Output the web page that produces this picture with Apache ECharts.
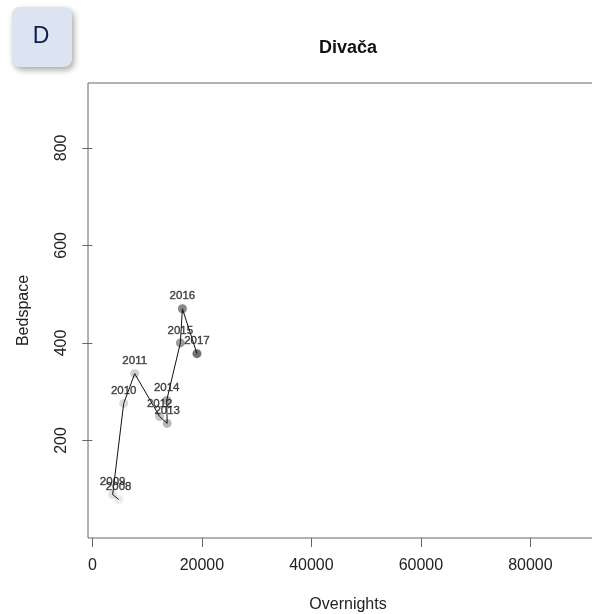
<!DOCTYPE html>
<html>
<head>
<meta charset="utf-8">
<script src="https://cdn.jsdelivr.net/npm/echarts@6/dist/echarts.min.js"></script>
<style>
  html, body { margin: 0; padding: 0; background: #fff; }
  #chart { width: 592px; height: 614px; }
</style>
</head>
<body>
<div id="chart"></div>
<script>
// Divača: overnights vs. bed capacity, by year
const years = [2008, 2009, 2010, 2011, 2012, 2013, 2014, 2015, 2016, 2017];
const overnights = [4800, 3700, 5720, 7730, 12290, 13660, 13570, 16070, 16440, 19100];
const bedspace = [79, 89, 276, 337, 249, 235, 282, 400, 470, 378];
// grey ramp, light (early years) to dark (recent years)
const yearColors = ['#e6e6e6', '#dbdbdb', '#cfcfcf', '#c3c3c3', '#b5b5b5',
                    '#a7a7a7', '#969696', '#838383', '#6c6c6c', '#4d4d4d'];
const xTicks = [0, 20000, 40000, 60000, 80000];
const yTicks = [200, 400, 600, 800];

const points = years.map((y, i) => ({
  value: [overnights[i], bedspace[i]],
  name: String(y),
  itemStyle: { color: yearColors[i] }
}));
const path = years.map((y, i) => [overnights[i], bedspace[i]]);

const font = '"Liberation Sans", Arial, Helvetica, sans-serif';
const axisGrey = '#666';
const plain = v => String(v);

const chart = echarts.init(document.getElementById('chart'), null, { renderer: 'canvas' });
chart.setOption({
  animation: false,
  backgroundColor: '#fff',
  title: {
    text: 'Divača',
    left: 343, top: 34, textAlign: 'center',
    textStyle: { fontFamily: font, fontSize: 18, fontWeight: 'bold', color: '#111' }
  },
  graphic: [
    {
      type: 'rect',
      shape: { x: 12, y: 7, width: 60, height: 60, r: 8 },
      style: {
        fill: '#dce4f1',
        shadowBlur: 6, shadowOffsetX: 2, shadowOffsetY: 3,
        shadowColor: 'rgba(0,0,0,0.35)'
      },
      z: 10
    },
    {
      type: 'text',
      x: 41, y: 37,
      style: {
        text: 'D', fontFamily: font, fontSize: 23, fill: '#0f1c4d',
        textAlign: 'center', textVerticalAlign: 'middle'
      },
      z: 11
    }
  ],
  grid: {
    left: 88, top: 83, width: 520, height: 455,
    outerBoundsMode: 'none',
    containLabel: false,
    show: true, borderColor: axisGrey, borderWidth: 1, backgroundColor: 'transparent'
  },
  xAxis: {
    type: 'value',
    min: -800, max: 94170,
    name: 'Overnights', nameLocation: 'middle', nameGap: 59,
    nameTextStyle: { fontFamily: font, fontSize: 16, color: '#222' },
    axisLine: { show: false },
    splitLine: { show: false },
    axisTick: { show: true, length: 9, customValues: xTicks, lineStyle: { color: axisGrey } },
    axisLabel: { customValues: xTicks, formatter: plain, margin: 20, fontFamily: font, fontSize: 16, color: '#222' }
  },
  yAxis: {
    type: 'value',
    min: 0, max: 933,
    name: 'Bedspace', nameLocation: 'middle', nameGap: 56,
    nameTextStyle: { fontFamily: font, fontSize: 16, color: '#222' },
    axisLine: { show: false },
    splitLine: { show: false },
    axisTick: { show: true, length: 10, customValues: yTicks, lineStyle: { color: axisGrey } },
    axisLabel: { customValues: yTicks, formatter: plain, rotate: 90, margin: 18, fontFamily: font, fontSize: 16, color: '#222' }
  },
  series: [
    {
      type: 'scatter',
      data: points,
      symbol: 'circle', symbolSize: 9,
      z: 2
    },
    {
      type: 'line',
      data: path,
      showSymbol: false,
      lineStyle: { color: '#111', width: 1 },
      z: 3
    },
    {
      type: 'scatter',
      data: years.map((y, i) => ({ value: [overnights[i], bedspace[i]], name: String(y) })),
      symbolSize: 9,
      itemStyle: { color: 'rgba(0,0,0,0)' },
      label: {
        show: true, position: 'top', distance: 2,
        formatter: p => p.name,
        fontFamily: font, fontSize: 11.5, color: '#1a1a1a',
        textBorderColor: '#333', textBorderWidth: 0.4
      },
      labelLayout: { hideOverlap: false },
      z: 4
    }
  ]
});
</script>
</body>
</html>
